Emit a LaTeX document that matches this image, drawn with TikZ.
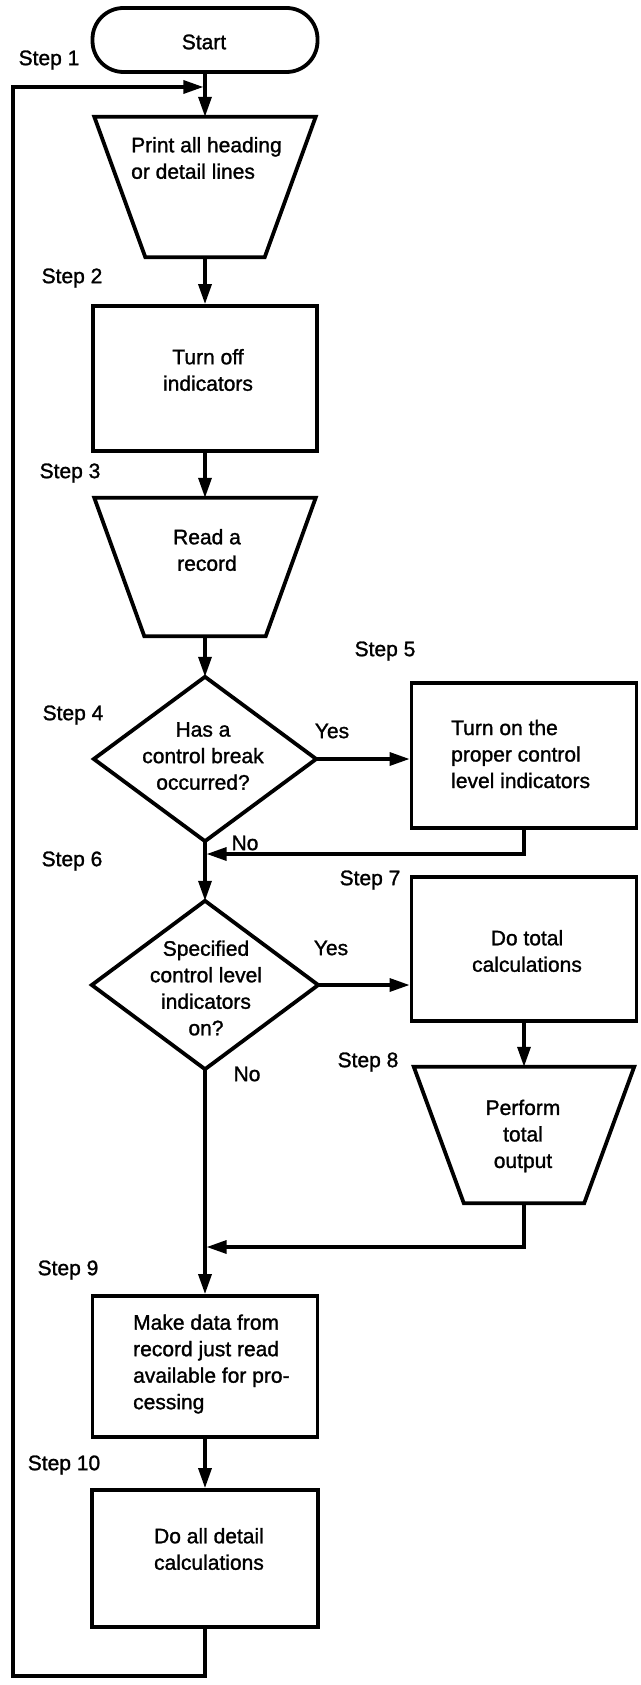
\documentclass[tikz,border=0pt]{standalone}
\usepackage{fontspec}
\setmainfont{Liberation Sans}[FakeBold=1.3]
\usetikzlibrary{arrows.meta}
\begin{document}
\begin{tikzpicture}[x=1pt,y=-1pt,
  every node/.style={font=\fontsize{21}{26.5}\selectfont, inner sep=0pt},
  outline/.style={draw, line width=3.8pt, line join=miter},
  frame/.style={inner sep=0pt},
  txt/.style={align=center},
  ltxt/.style={align=left, anchor=west},
  flow/.style={line width=3.3pt, -{Triangle[length=20pt,width=13pt]}}]
\useasboundingbox (0,0) rectangle (640,1685);

% ---- main column shapes ----
\node[outline, rounded corners=31pt, minimum width=225pt, minimum height=64pt] (start) at (205,40) {};
\node at (204,42) {Start};

\node[frame, minimum width=221pt, minimum height=140pt] (trap1) at (205,187) {};
\draw[outline] (trap1.north west) -- (trap1.north east) -- ([xshift=-51pt]trap1.south east)
  -- ([xshift=51pt]trap1.south west) -- cycle;
\node[ltxt] at (131,158) {Print all heading\\or detail lines};

\node[outline, minimum width=224pt, minimum height=145pt] (box2) at (205,378.5) {};
\node[txt] at (208,370) {Turn off\\indicators};

\node[frame, minimum width=221pt, minimum height=138pt] (trap2) at (205,567) {};
\draw[outline] (trap2.north west) -- (trap2.north east) -- ([xshift=-50pt]trap2.south east)
  -- ([xshift=50pt]trap2.south west) -- cycle;
\node[txt] at (207,550) {Read a\\record};

\node[frame, minimum width=222pt, minimum height=164pt] (dia1) at (205,759) {};
\draw[outline] (dia1.north) -- (dia1.east) -- (dia1.south) -- (dia1.west) -- cycle;
\node[txt] at (203,756) {Has a\\control break\\occurred?};

\node[frame, minimum width=226pt, minimum height=168pt] (dia2) at (205,985) {};
\draw[outline] (dia2.north) -- (dia2.east) -- (dia2.south) -- (dia2.west) -- cycle;
\node[txt] at (206,988) {Specified\\control level\\indicators\\on?};

\node[outline, minimum width=225pt, minimum height=141pt] (box9) at (205,1366.5) {};
\node[ltxt] at (133,1364) {Make data from\\record just read\\available for pro-\\cessing};

\node[outline, minimum width=226pt, minimum height=137pt] (box10) at (205,1558.5) {};
\node[txt] at (209,1549) {Do all detail\\calculations};

% ---- right column shapes ----
\node[outline, minimum width=225pt, minimum height=145pt] (box5) at (524,755.5) {};
\node[ltxt] at (451,754) {Turn on the\\proper control\\level indicators};

\node[outline, minimum width=225pt, minimum height=144pt] (box7) at (524,949) {};
\node[txt] at (527,951) {Do total\\calculations};

\node[frame, minimum width=220pt, minimum height=136pt] (trap3) at (524,1135) {};
\draw[outline] (trap3.north west) -- (trap3.north east) -- ([xshift=-50pt]trap3.south east)
  -- ([xshift=50pt]trap3.south west) -- cycle;
\node[txt] at (523,1136) {Perform\\total\\output};

% ---- step labels ----
\node (s1) at (49,60) {Step 1};
\node (s2) at (72,278) {Step 2};
\node (s3) at (70,473) {Step 3};
\node (s4) at (73,715) {Step 4};
\node (s5) at (385,651) {Step 5};
\node (s6) at (72,861) {Step 6};
\node (s7) at (370,880) {Step 7};
\node (s8) at (368,1062) {Step 8};
\node (s9) at (68,1270) {Step 9};
\node (s10) at (64,1465) {Step 10};

% ---- branch labels ----
\node (yes1) at (332,731) {Yes};
\node (yes2) at (331,948) {Yes};
\node (no1) at (245,843) {No};
\node (no2) at (247,1074) {No};

% ---- junction points ----
\coordinate (j0) at (205,87);
\coordinate (j1) at (205,854);
\coordinate (r1) at (524,854);
\coordinate (j2) at (205,1247);
\coordinate (r2) at (524,1247);
\coordinate (lb) at (205,1676);
\coordinate (lc) at (13,1676);
\coordinate (ld) at (13,87);

% ---- connectors ----
\draw[flow] (start.south) -- (trap1.north);
\draw[flow] (trap1.south) -- (box2.north);
\draw[flow] (box2.south) -- (trap2.north);
\draw[flow] (trap2.south) -- (dia1.north);
\draw[flow] (dia1.east) -- (dia1.east -| box5.west);
\draw[flow] (box5.south) -- (r1) -- ([xshift=1.6pt]j1);
\draw[flow] (dia1.south) -- (dia2.north);
\draw[flow] (dia2.east) -- (dia2.east -| box7.west);
\draw[flow] (box7.south) -- (trap3.north);
\draw[flow] (trap3.south) -- (r2) -- ([xshift=1.6pt]j2);
\draw[flow] (dia2.south) -- (box9.north);
\draw[flow] (box9.south) -- (box10.north);
\draw[flow] (box10.south) -- (lb) -- (lc) -- (ld) -- ([xshift=-1.6pt]j0);
\end{tikzpicture}
\end{document}
